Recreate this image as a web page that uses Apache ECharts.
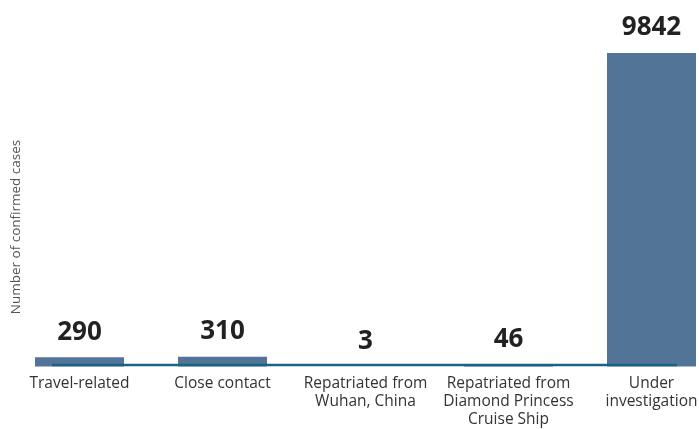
<!DOCTYPE html>
<html><head><meta charset="utf-8">
<script src="https://cdn.jsdelivr.net/npm/echarts@6/dist/echarts.min.js"></script>
<style>html,body{margin:0;padding:0;background:#fff}#c{width:699px;height:429px}</style>
</head><body><div id="c"></div>
<script>
const categories = ["Travel-related", "Close contact", "Repatriated from\nWuhan, China", "Repatriated from\nDiamond Princess\nCruise Ship", "Under\ninvestigation"];
const cases = [290, 310, 3, 46, 9842];
const yAxisTitle = "Number of confirmed cases";

const chart = echarts.init(document.getElementById('c'));
chart.setOption({
  animation: false,
  grid: { left: 8, top: 53, width: 715, bottom: 62.5, containLabel: false, outerBoundsMode: 'none' },
  xAxis: {
    type: 'category', data: categories,
    axisLine: { show: false }, axisTick: { show: false },
    axisLabel: { interval: 0, margin: 8, color: '#333', fontFamily: 'Open Sans', fontSize: 15.5, lineHeight: 18, hideOverlap: false }
  },
  yAxis: {
    type: 'value', min: 0, max: 'dataMax',
    axisLine: { show: false }, axisTick: { show: false }, axisLabel: { show: false }, splitLine: { show: false }
  },
  series: [{
    type: 'bar', data: cases, barWidth: 89,
    itemStyle: { color: '#527597' },
    label: { show: true, position: 'top', distance: 12, color: '#222', fontFamily: 'Open Sans', fontWeight: 'bold', fontSize: 26 }
  }],
  graphic: [
    { type: 'line', shape: { x1: 52, y1: 365, x2: 677, y2: 365 }, style: { stroke: '#1a6384', lineWidth: 2.5 }, z: 100 },
    { type: 'text', x: 16, y: 227, rotation: Math.PI / 2,
      style: { text: yAxisTitle, fill: '#555', font: '13.5px "Open Sans"', align: 'center', verticalAlign: 'middle' } }
  ]
});
</script></body></html>
